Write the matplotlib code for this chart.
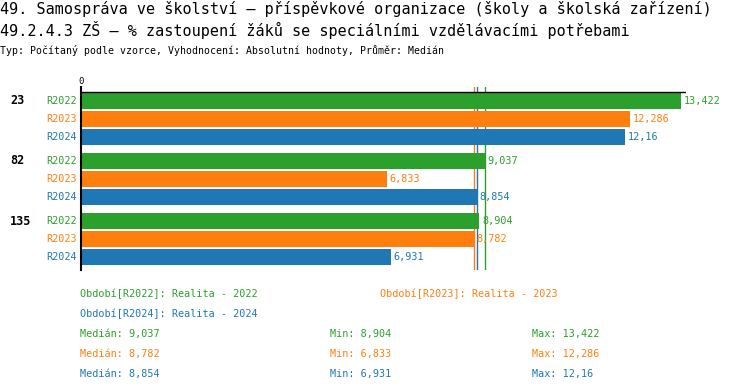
import matplotlib.pyplot as plt
import numpy as np

groups = ["23", "82", "135"]
series = ["R2022", "R2023", "R2024"]
colors = ["#2ca02c", "#ff7f0e", "#1f77b4"]
# values[series][group]
r2022 = [13.422, 9.037, 8.904]
r2023 = [12.286, 6.833, 8.782]
r2024 = [12.16, 8.854, 6.931]
values = [r2022, r2023, r2024]
legend_names = ["Období[R2022]: Realita - 2022", "Období[R2023]: Realita - 2023",
                "Období[R2024]: Realita - 2024"]

title1 = "49. Samospráva ve školství – příspěvkové organizace (školy a školská zařízení)"
title2 = "49.2.4.3 ZŠ – % zastoupení žáků se speciálními vzdělávacími potřebami"
subtitle = "Typ: Počítaný podle vzorce, Vyhodnocení: Absolutní hodnoty, Průměr: Medián"

W, H = 750, 392
mono = "DejaVu Sans Mono"


def fmt(v):
    return f"{v:g}".replace(".", ",")


def px(x, y):
    return x / W, 1 - y / H


fig = plt.figure(figsize=(W / 100, H / 100), dpi=100)
ax = fig.add_axes([81 / W, 1 - 270 / H, (686 - 81) / W, (270 - 87) / H])

gap = 60 / 18
for s, (name, col) in enumerate(zip(series, colors)):
    ys = [g * gap + s for g in range(len(groups))]
    ax.barh(ys, values[s], height=16 / 18, color=col, zorder=2)
    for y, v in zip(ys, values[s]):
        ax.annotate(fmt(v), (v, y), xytext=(2, 0), textcoords="offset points",
                    va="center", ha="left", color=col, family=mono, fontsize=7.3)
        ax.text(-0.006, y, name, transform=ax.get_yaxis_transform(), ha="right",
                va="center", color=col, family=mono, fontsize=7.3)

for g, lab in enumerate(groups):
    fig.text(*px(10, 101 + g * 60), lab, ha="left", va="center", family=mono,
             fontsize=8.5, fontweight="bold")

# median lines, behind the bars
for s in [1, 2, 0]:
    ax.axvline(np.median(values[s]), color=colors[s], lw=1, zorder=1)

ax.set_xlim(0, 13.53)
ax.set_ylim(9.39, -0.78)
ax.axhline(-0.5, color="black", lw=1, zorder=3)
for sp in ["top", "right", "bottom"]:
    ax.spines[sp].set_visible(False)
ax.spines["left"].set_linewidth(1.5)
ax.spines["left"].set_zorder(4)
ax.set_xticks([])
ax.set_yticks([])
fig.text(*px(81, 81), "0", ha="center", va="center", family=mono, fontsize=6.5)

fig.text(*px(0, 9), title1, ha="left", va="center", family=mono, fontsize=10.9)
fig.text(*px(0, 30), title2, ha="left", va="center", family=mono, fontsize=10.9)
fig.text(*px(0, 50), subtitle, ha="left", va="center", family=mono, fontsize=7.1)

fig.text(*px(80, 294), legend_names[0], color=colors[0], va="center", family=mono, fontsize=7.3)
fig.text(*px(380, 294), legend_names[1], color=colors[1], va="center", family=mono, fontsize=7.3)
fig.text(*px(80, 314), legend_names[2], color=colors[2], va="center", family=mono, fontsize=7.3)

for s in range(3):
    y = 334 + s * 20
    v = values[s]
    fig.text(*px(80, y), "Medián: " + fmt(np.median(v)), color=colors[s], va="center",
             family=mono, fontsize=7.3)
    fig.text(*px(330, y), "Min: " + fmt(min(v)), color=colors[s], va="center",
             family=mono, fontsize=7.3)
    fig.text(*px(532, y), "Max: " + fmt(max(v)), color=colors[s], va="center",
             family=mono, fontsize=7.3)

fig.savefig("out.png", dpi=100)
